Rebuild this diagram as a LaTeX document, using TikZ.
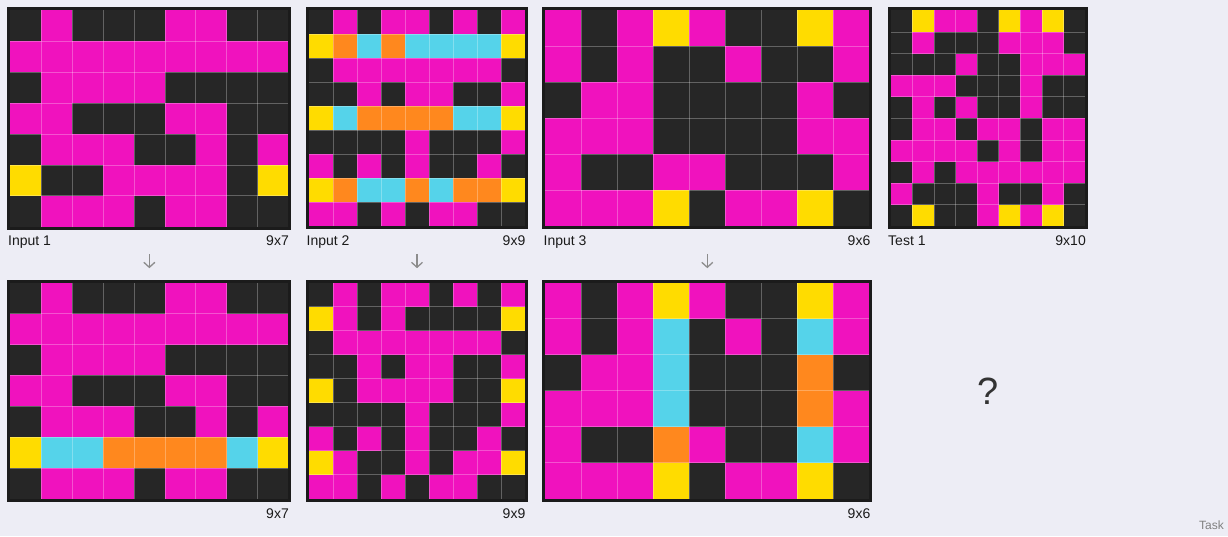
\documentclass[tikz,border=0pt]{standalone}
\usepackage{fontspec}
\setmainfont{Liberation Sans}
\usetikzlibrary{arrows.meta}
\definecolor{bg}{HTML}{EDEDF5}
\definecolor{cK}{HTML}{262626}
\definecolor{cM}{HTML}{F012BE}
\definecolor{cY}{HTML}{FFDC00}
\definecolor{cC}{HTML}{55D3EA}
\definecolor{cO}{HTML}{FF881E}
\definecolor{frm}{HTML}{1B1B1B}
\definecolor{arrc}{HTML}{8C8C8C}
\definecolor{txt}{HTML}{1A1A1A}
\definecolor{qc}{HTML}{333333}
\definecolor{taskc}{HTML}{808080}
\tikzset{
  gl/.style={draw=white, draw opacity=0.28, line width=0.6pt},
  frame/.style={draw=frm, line width=3pt, inner sep=0pt, outer sep=0pt},
  lbl/.style={text=txt, font=\fontsize{14}{16}\selectfont, inner sep=0pt},
  arr/.style={draw=arrc, line width=1.3pt, -{Straight Barb[length=5pt,width=11pt]}},
}
\newcommand{\arcgrid}[7]{%
  \foreach \row [count=\r from 0] in {#7} {
    \foreach \v [count=\c from 0] in \row {
      \fill[fill=c\v] ({#2+\c*#4},{#3+\r*#4}) rectangle ++(#4,#4);
    }
  }
  \pgfmathtruncatemacro\nca{#5-1}
  \pgfmathtruncatemacro\nra{#6-1}
  \foreach \i in {1,...,\nca} \draw[gl] ({#2+\i*#4},#3) -- ++(0,{#6*#4});
  \foreach \i in {1,...,\nra} \draw[gl] (#2,{#3+\i*#4}) -- ++({#5*#4},0);
  \node[frame, minimum width={#5*#4+3}, minimum height={#6*#4+3}] (#1) at ({#2+#5*#4/2},{#3+#6*#4/2}) {};
}
\begin{document}
\begin{tikzpicture}[x=1pt,y=-1pt]
\fill[bg] (0,0) rectangle (1228,536);
\useasboundingbox (0,0) rectangle (1228,536);

% Input 1
\arcgrid{g1i}{10.3}{10.3}{30.9}{9}{7}{
{K,M,K,K,K,M,M,K,K},
{M,M,M,M,M,M,M,M,M},
{K,M,M,M,M,K,K,K,K},
{M,M,K,K,K,M,M,K,K},
{K,M,M,M,K,K,M,K,M},
{Y,K,K,M,M,M,M,K,Y},
{K,M,M,M,K,M,M,K,K}}
% Output 1
\arcgrid{g1o}{10.3}{282.7}{30.9}{9}{7}{
{K,M,K,K,K,M,M,K,K},
{M,M,M,M,M,M,M,M,M},
{K,M,M,M,M,K,K,K,K},
{M,M,K,K,K,M,M,K,K},
{K,M,M,M,K,K,M,K,M},
{Y,C,C,O,O,O,O,C,Y},
{K,M,M,M,K,M,M,K,K}}

% Input 2
\arcgrid{g2i}{309}{10.3}{24}{9}{9}{
{K,M,K,M,M,K,M,K,M},
{Y,O,C,O,C,C,C,C,Y},
{K,M,M,M,M,M,M,M,K},
{K,K,M,K,M,M,K,K,M},
{Y,C,O,O,O,O,C,C,Y},
{K,K,K,K,M,K,K,K,M},
{M,K,M,K,M,K,K,M,K},
{Y,O,C,C,O,C,O,O,Y},
{M,M,K,M,K,M,M,K,K}}
% Output 2
\arcgrid{g2o}{309}{282.7}{24}{9}{9}{
{K,M,K,M,M,K,M,K,M},
{Y,M,K,M,K,K,K,K,Y},
{K,M,M,M,M,M,M,M,K},
{K,K,M,K,M,M,K,K,M},
{Y,K,M,M,M,M,K,K,Y},
{K,K,K,K,M,K,K,K,M},
{M,K,M,K,M,K,K,M,K},
{Y,M,K,K,M,K,M,M,Y},
{M,M,K,M,K,M,M,K,K}}

% Input 3
\arcgrid{g3i}{545.3}{10.3}{36}{9}{6}{
{M,K,M,Y,M,K,K,Y,M},
{M,K,M,K,K,M,K,K,M},
{K,M,M,K,K,K,K,M,K},
{M,M,M,K,K,K,K,M,M},
{M,K,K,M,M,K,K,K,M},
{M,M,M,Y,K,M,M,Y,K}}
% Output 3
\arcgrid{g3o}{545.3}{282.7}{36}{9}{6}{
{M,K,M,Y,M,K,K,Y,M},
{M,K,M,C,K,M,K,C,M},
{K,M,M,C,K,K,K,O,K},
{M,M,M,C,K,K,K,O,M},
{M,K,K,O,M,K,K,C,M},
{M,M,M,Y,K,M,M,Y,K}}

% Test 1
\arcgrid{gt}{890.7}{10.3}{21.6}{9}{10}{
{K,Y,M,M,K,Y,M,Y,K},
{K,M,K,K,K,M,M,M,K},
{K,K,K,M,K,K,M,M,M},
{M,M,M,K,K,K,M,K,K},
{K,M,K,M,K,K,M,K,K},
{K,M,M,K,M,M,K,M,M},
{M,M,M,M,K,M,K,M,M},
{K,M,K,M,M,M,M,M,M},
{M,K,K,K,M,K,K,M,K},
{K,Y,K,K,M,Y,M,Y,K}}

% labels
\node[lbl, anchor=base west] (l1i) at (8,245) {Input 1};
\node[lbl, anchor=base east] (s1i) at (289,245) {9x7};
\node[lbl, anchor=base west] (l2i) at (306.5,245) {Input 2};
\node[lbl, anchor=base east] (s2i) at (525.5,245) {9x9};
\node[lbl, anchor=base west] (l3i) at (543.5,245) {Input 3};
\node[lbl, anchor=base east] (s3i) at (870.5,245) {9x6};
\node[lbl, anchor=base west] (lt) at (888,245) {Test 1};
\node[lbl, anchor=base east] (st) at (1086,245) {9x10};
\node[lbl, anchor=base east] (s1o) at (289,518) {9x7};
\node[lbl, anchor=base east] (s2o) at (525.5,518) {9x9};
\node[lbl, anchor=base east] (s3o) at (870.5,518) {9x6};

% arrows
\draw[arr] ([yshift=-26pt]g1i.south) -- ([yshift=13pt]g1o.north);
\draw[arr] ([yshift=-26pt]g2i.south) -- ([yshift=13pt]g2o.north);
\draw[arr] ([yshift=-26pt]g3i.south) -- ([yshift=13pt]g3o.north);

% question mark and task
\node[text=qc, font=\fontsize{38}{40}\selectfont, inner sep=0pt] (q) at (988,391) {?};
\node[text=taskc, font=\fontsize{12}{14}\selectfont, inner sep=0pt, anchor=base east] (task) at (1224,529) {Task};
\end{tikzpicture}
\end{document}
